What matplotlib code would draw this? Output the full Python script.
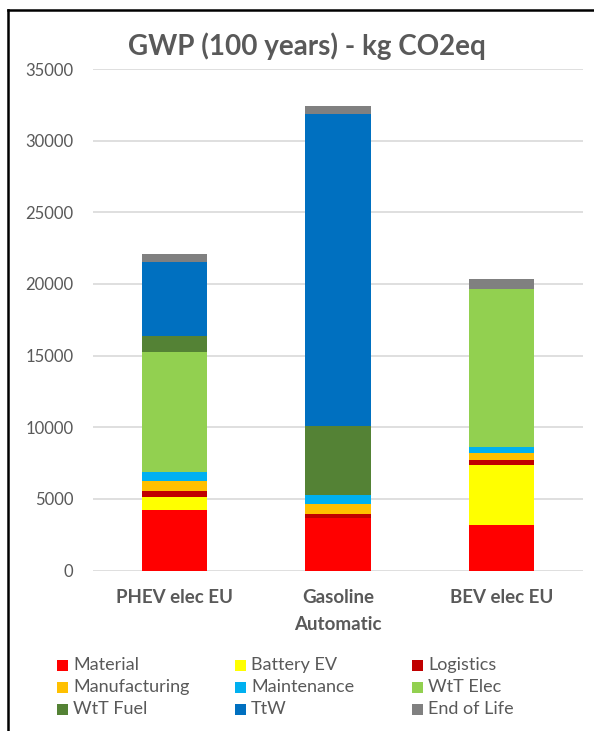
import matplotlib
matplotlib.use("Agg")
import matplotlib.pyplot as plt
from matplotlib.patches import Rectangle
from matplotlib.lines import Line2D
import numpy as np

plt.rcParams['font.family'] = ['Lato', 'DejaVu Sans']

categories = ["PHEV elec EU", "Gasoline\nAutomatic", "BEV elec EU"]
segments = ["Material", "Battery EV", "Logistics", "Manufacturing", "Maintenance",
            "WtT Elec", "WtT Fuel", "TtW", "End of Life"]
colors = ["#FF0000", "#FFFF00", "#C00000", "#FFC000", "#00B0F0",
          "#92D050", "#548235", "#0070C0", "#808080"]

material      = [4230, 3680, 3210]
battery_ev    = [930, 0, 4160]
logistics     = [370, 270, 370]
manufacturing = [700, 680, 440]
maintenance   = [650, 670, 470]
wtt_elec      = [8390, 0, 10990]
wtt_fuel      = [1120, 4810, 0]
ttw           = [5140, 21740, 0]
end_of_life   = [550, 580, 700]

series = [material, battery_ev, logistics, manufacturing, maintenance,
          wtt_elec, wtt_fuel, ttw, end_of_life]

W, H = 594, 731
fig = plt.figure(figsize=(W / 100, H / 100), dpi=100)
ax = fig.add_axes([93 / W, 1 - 570.5 / H, (583 - 93) / W, (570.5 - 69) / H])

x = np.arange(len(categories))
bottom = np.zeros(len(categories))
for name, vals, c in zip(segments, series, colors):
    vals = np.array(vals, dtype=float)
    ax.bar(x, vals, bottom=bottom, width=0.40, color=c, label=name, zorder=3)
    bottom += vals

ax.set_xlim(-0.5, 2.5)
ax.set_ylim(0, 35000)
ax.set_yticks(np.arange(0, 35001, 5000))
ax.yaxis.grid(True, color="#D9D9D9", linewidth=1.2, zorder=0)
ax.set_axisbelow(True)
for s in ax.spines.values():
    s.set_visible(False)
ax.tick_params(axis='both', length=0)
ax.tick_params(axis='y', labelsize=12, labelcolor="#595959", pad=14)
ax.set_xticks(x)
ax.set_xticklabels(categories, fontsize=13.5, fontweight='bold', color="#595959",
                   linespacing=1.75)
ax.tick_params(axis='x', pad=13)

fig.text(307 / W, 1 - 46 / H, "GWP (100 years) - kg CO2eq", ha='center', va='center',
         fontsize=20, fontweight='bold', color="#595959")

# legend (row-wise, 3 columns)
col_x = [57, 235, 412]
row_y = [665, 687, 709]
sq = 11
for i, (name, c) in enumerate(zip(segments, colors)):
    r, cc = divmod(i, 3)
    x0 = col_x[cc]
    y0 = row_y[r]
    fig.patches.append(Rectangle((x0 / W, 1 - (y0 + sq / 2) / H), sq / W, sq / H,
                                 transform=fig.transFigure, facecolor=c,
                                 edgecolor='none', figure=fig))
    fig.text((x0 + 16) / W, 1 - y0 / H, name, ha='left', va='center',
             fontsize=13, color="#595959")

# outer frame lines
fig.add_artist(Line2D([8 / W, 8 / W], [0, 1 - 10 / H], transform=fig.transFigure,
                      color='black', linewidth=1.8))
fig.add_artist(Line2D([8 / W, 1], [1 - 10 / H, 1 - 10 / H], transform=fig.transFigure,
                      color='black', linewidth=1.8))

fig.savefig("out.png", dpi=100)
